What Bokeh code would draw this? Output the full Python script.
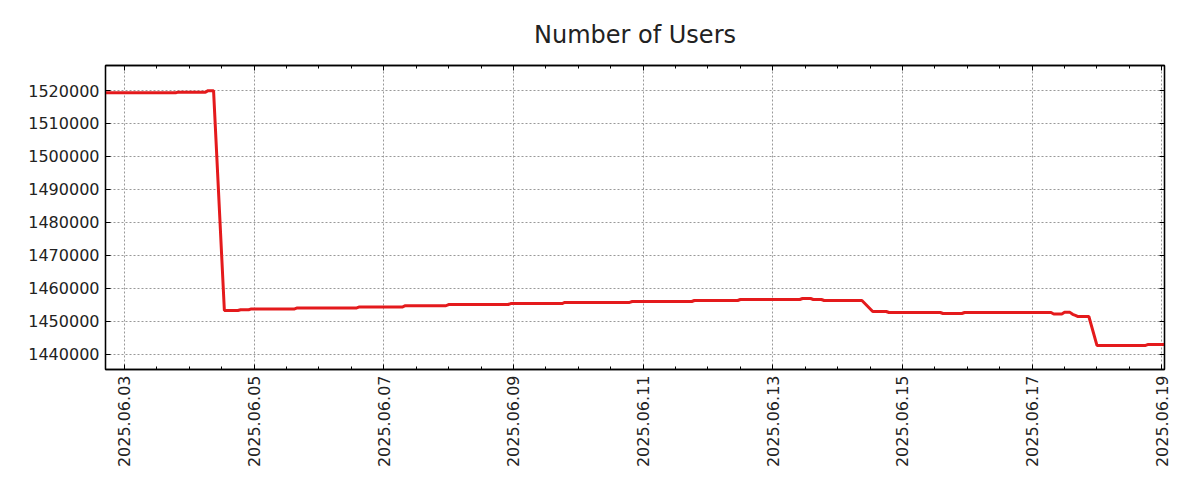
import math
import pandas as pd
from bokeh.plotting import figure
from bokeh.models import (Range1d, FixedTicker, DatetimeTickFormatter, LinearAxis,
                          BasicTickFormatter, DatetimeAxis)
from bokeh.embed import file_html
from bokeh.resources import INLINE

# ---- data (hourly snapshots) ----
times = [
    "2025-06-02 17:00", "2025-06-03 19:00", "2025-06-03 20:00", "2025-06-04 06:00",
    "2025-06-04 07:00", "2025-06-04 09:00", "2025-06-04 13:00", "2025-06-04 18:00",
    "2025-06-04 19:00", "2025-06-04 22:00", "2025-06-04 23:00", "2025-06-05 15:00",
    "2025-06-05 16:00", "2025-06-06 14:00", "2025-06-06 15:00", "2025-06-07 07:00",
    "2025-06-07 08:00", "2025-06-07 23:00", "2025-06-08 00:00", "2025-06-08 22:00",
    "2025-06-08 23:00", "2025-06-09 18:00", "2025-06-09 19:00", "2025-06-10 19:00",
    "2025-06-10 20:00", "2025-06-11 18:00", "2025-06-11 19:00", "2025-06-12 11:00",
    "2025-06-12 12:00", "2025-06-13 10:00", "2025-06-13 11:00", "2025-06-13 14:00",
    "2025-06-13 15:00", "2025-06-13 18:00", "2025-06-13 19:00", "2025-06-14 09:00",
    "2025-06-14 13:00", "2025-06-14 18:00", "2025-06-14 19:00", "2025-06-15 14:00",
    "2025-06-15 15:00", "2025-06-15 22:00", "2025-06-15 23:00", "2025-06-17 07:00",
    "2025-06-17 08:00", "2025-06-17 11:00", "2025-06-17 12:00", "2025-06-17 14:00",
    "2025-06-17 15:00", "2025-06-17 16:00", "2025-06-17 17:00", "2025-06-17 21:00",
    "2025-06-18 00:00", "2025-06-18 18:00", "2025-06-18 19:00", "2025-06-19 01:00",
]
users = [
    1519330, 1519330, 1519500, 1519500,
    1519950, 1519950, 1453250, 1453250,
    1453490, 1453490, 1453740, 1453740,
    1454040, 1454040, 1454340, 1454340,
    1454700, 1454700, 1455070, 1455070,
    1455370, 1455370, 1455700, 1455700,
    1455980, 1455980, 1456290, 1456290,
    1456590, 1456590, 1456890, 1456890,
    1456590, 1456590, 1456290, 1456290,
    1452960, 1452960, 1452650, 1452650,
    1452340, 1452340, 1452650, 1452650,
    1452200, 1452200, 1452700, 1452700,
    1452100, 1451800, 1451430, 1451430,
    1442660, 1442660, 1442960, 1442960,
]

x_tick_dates = ["2025-06-03", "2025-06-05", "2025-06-07", "2025-06-09", "2025-06-11",
                "2025-06-13", "2025-06-15", "2025-06-17", "2025-06-19"]
y_ticks = [1440000, 1450000, 1460000, 1470000, 1480000, 1490000, 1500000, 1510000, 1520000]

t = pd.to_datetime(times)

def ms(s):
    return pd.Timestamp(s).value // 10**6

major_x = [ms(d) for d in x_tick_dates]
minor_x = [ms(d) for d in pd.date_range("2025-06-02 12:00", "2025-06-19 12:00", freq="12h")]

FONT = "DejaVu Sans"
TXT = "#222222"

p = figure(width=1184, height=484, output_backend="svg", toolbar_location=None,
           x_axis_type="datetime",
           x_range=Range1d(pd.Timestamp("2025-06-02 17:00"), pd.Timestamp("2025-06-19 01:00")),
           y_range=Range1d(1435358, 1527585),
           min_border_left=105, min_border_right=20, min_border_top=65, min_border_bottom=115)

p.background_fill_color = "white"
p.border_fill_color = "white"
p.outline_line_color = "black"
p.outline_line_width = 1.3

p.title.text = "Number of Users"
p.title.align = "center"
p.title.text_font = FONT
p.title.text_font_size = "24px"
p.title.text_font_style = "normal"
p.title.text_color = TXT
p.title.standoff = 33

xticker = FixedTicker(ticks=major_x, minor_ticks=minor_x)
yticker = FixedTicker(ticks=y_ticks)
fmt = "%Y.%m.%d"
xfmt = DatetimeTickFormatter(microseconds=fmt, milliseconds=fmt, seconds=fmt, minsec=fmt,
                             minutes=fmt, hourmin=fmt, hours=fmt, days=fmt, months=fmt, years=fmt)

xa = p.xaxis[0]
xa.ticker = xticker
xa.formatter = xfmt
xa.major_label_orientation = math.pi / 2
ya = p.yaxis[0]
ya.ticker = yticker
ya.formatter = BasicTickFormatter(use_scientific=False)

for ax in (xa, ya):
    ax.major_tick_in = 5
    ax.major_tick_out = 0
    ax.minor_tick_in = 3
    ax.minor_tick_out = 0
    ax.axis_line_color = "black"
    ax.axis_line_width = 1.3
    ax.major_tick_line_width = 1
    ax.minor_tick_line_width = 1
    ax.major_label_text_font = FONT
    ax.major_label_text_font_size = "16px"
    ax.major_label_text_color = TXT
    ax.major_label_standoff = 6
ya.minor_tick_in = 0

top = DatetimeAxis(ticker=xticker, formatter=xfmt, major_tick_in=5, major_tick_out=0,
                   minor_tick_in=3, minor_tick_out=0, major_label_text_font_size="0px",
                   major_label_text_color=None, major_label_standoff=0, axis_line_width=1.3)
right = LinearAxis(ticker=yticker, major_tick_in=5, major_tick_out=0, minor_tick_in=0,
                   minor_tick_out=0, major_label_text_font_size="0px",
                   major_label_text_color=None, major_label_standoff=0, axis_line_width=1.3)
p.add_layout(top, "above")
p.add_layout(right, "right")

p.xgrid.ticker = xticker
p.ygrid.ticker = yticker
for g in (p.xgrid[0], p.ygrid[0]):
    g.grid_line_color = "#999999"
    g.grid_line_width = 1
    g.grid_line_dash = "2 2"

p.line(t, users, line_color="#e41a1c", line_width=3)

open("out.html", "w").write(file_html(p, INLINE))
